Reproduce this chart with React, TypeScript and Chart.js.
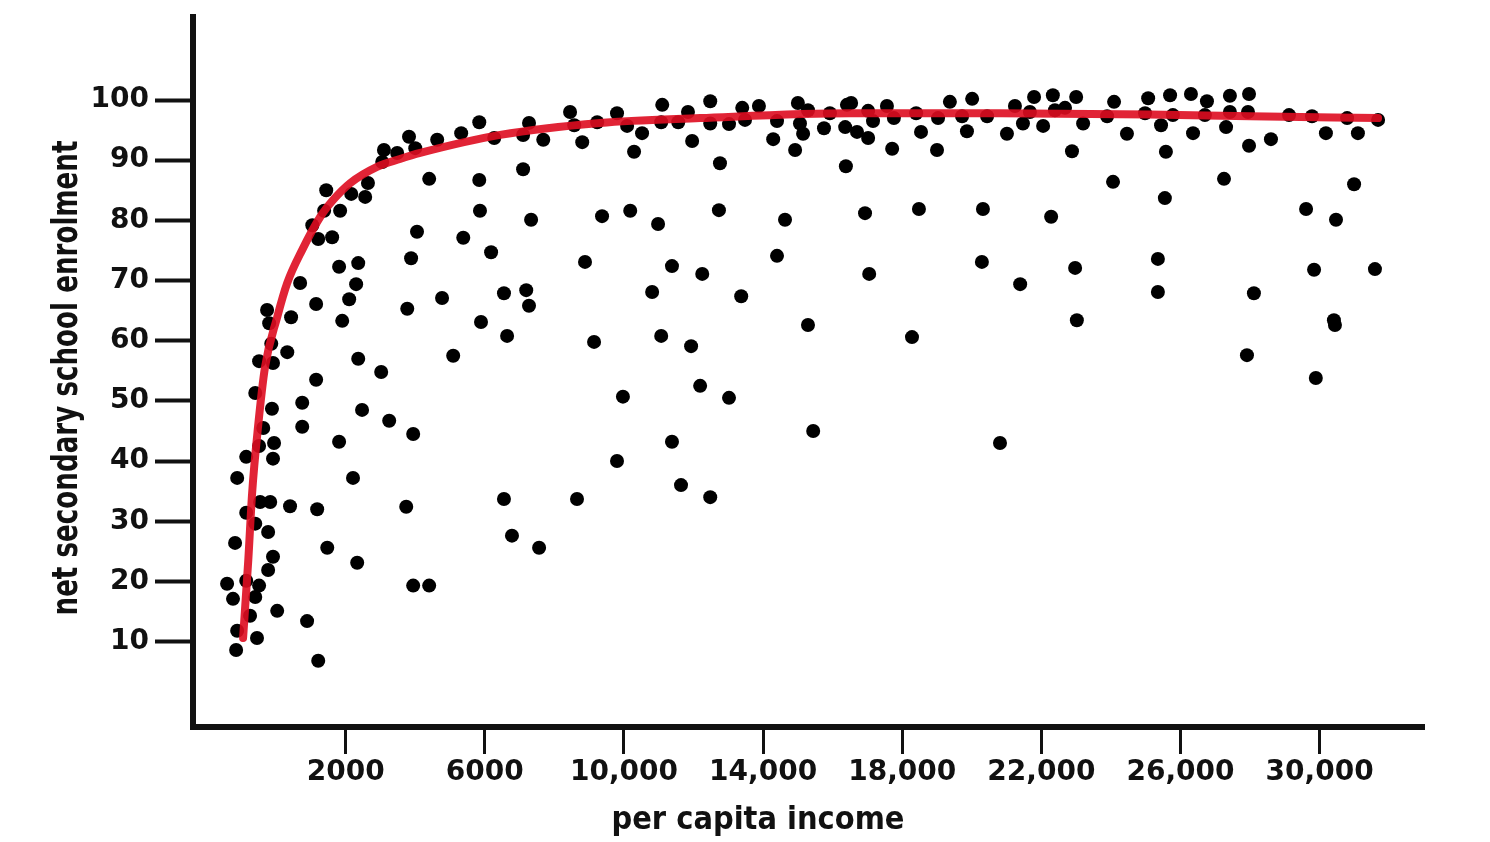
import React, { useEffect, useRef } from 'react';
import { Chart, registerables } from 'chart.js';

Chart.register(...registerables);

// ---- data ----
const incomes: number[] = [
  3820, 3100, 3480, 4000, 4630, 3050, 4400, 2640, 2560, 2160,
  1440, 1380, 1840, 1040, 1210, 1610, 4050, 3880, 1810, 2360,
  2300, 690, 2100, 1150, 3770, 1900, -260, -200, 430, -140,
  320, -490, -90, 2360, 3020, 1150, 4770, -600, 750, -120,
  2470, 3250, 3940, 750, -370, -490, -60, 1810, -860, -90,
  -1120, 2210, -460, -170, 400, 1180, 3740, -860, -600, -230,
  -1180, 1470, 2330, -90, -230, -1410, -860, -490, 3940, 4400,
  -600, -1240, 30, -750, 890, -1120, -550, -1150, 1210,
  5320, 5840, 6270, 7100, 7270, 7680, 8450, 8570, 8800, 9230,
  9800, 10090, 10520, 10290, 11100, 11070, 11560, 11840, 11960, 12480,
  12480, 13020, 13400, 13480, 13880, 14400, 14290, 14920, 15000, 15290,
  15060, 15150, 15750, 15920, 16410, 16360, 16380, 12760, 5840, 7100,
  5860, 7330, 5380, 6180, 9370, 10180, 10980, 12730, 14630, 8880,
  11380, 12250, 14400, 6550, 7190, 7270, 5890, 6640, 5090, 9140,
  10810, 11070, 11930, 13370, 15290, 9970, 12190, 13020, 11380, 9800,
  15440, 11640, 12480, 6550, 8650, 6780, 7560,
  16530, 16700, 17020, 17160, 17020, 17560, 17760, 17710, 18400, 18540,
  19030, 19000, 19370, 19720, 19860, 20010, 20440, 21010, 21240, 21470,
  21670, 21790, 22050, 22330, 22390, 22680, 23000, 23200, 22880, 23890,
  24090, 24460, 24060, 24980, 25070, 16930, 18480, 20320, 22280, 17050,
  20290, 21390, 22970, 23020, 18280, 20810,
  25700, 26300, 26760, 27420, 27970, 25780, 26700, 27420, 27940, 29120,
  29780, 30790, 31680, 25440, 26360, 27310, 27970, 28600, 30180, 31100,
  25580, 27250, 30990, 25550, 29610, 30470, 25350, 29840, 31590, 25350,
  28110, 30440, 27910, 29890, 30410,
];

const enrolment: number[] = [
  93.9, 91.7, 91.2, 92.0, 93.4, 89.7, 86.9, 86.2, 83.9, 84.4,
  85.0, 81.6, 81.6, 79.2, 76.9, 77.2, 78.1, 73.7, 72.3, 72.9,
  69.4, 69.6, 66.9, 66.1, 65.3, 63.3, 65.1, 62.9, 63.9, 59.5,
  58.1, 56.6, 56.3, 57.0, 54.8, 53.5, 67.1, 51.3, 49.7, 48.7,
  48.5, 46.7, 44.5, 45.7, 45.5, 42.5, 43.0, 43.2, 40.7, 40.4,
  37.2, 37.2, 33.2, 33.2, 32.5, 32.0, 32.4, 31.4, 29.6, 28.2,
  26.4, 25.6, 23.1, 24.1, 21.9, 19.6, 20.1, 19.3, 19.3, 19.3,
  17.4, 17.1, 15.1, 14.3, 13.4, 11.8, 10.6, 8.6, 6.8,
  94.5, 96.3, 93.7, 94.2, 96.2, 93.4, 98.0, 95.8, 93.0, 96.3,
  97.8, 95.7, 94.5, 91.4, 99.2, 96.3, 96.3, 98.0, 93.2, 99.8,
  96.1, 96.0, 98.7, 96.7, 99.0, 96.5, 93.5, 91.7, 99.5, 98.3,
  96.1, 94.4, 95.3, 97.8, 99.2, 95.5, 89.0, 89.5, 86.7, 88.5,
  81.6, 80.1, 77.1, 74.7, 80.7, 81.6, 79.4, 81.7, 80.1, 73.1,
  72.4, 71.1, 74.1, 67.9, 68.4, 65.8, 63.1, 60.8, 57.5, 59.8,
  68.1, 60.8, 59.1, 67.4, 62.6, 50.7, 52.5, 50.5, 43.2, 40.0,
  45.0, 36.0, 34.0, 33.7, 33.7, 27.6, 25.6,
  99.5, 94.7, 98.2, 96.5, 93.7, 99.0, 97.0, 91.9, 97.8, 94.7,
  97.0, 91.7, 99.7, 97.3, 94.8, 100.2, 97.3, 94.4, 99.0, 96.1,
  98.0, 100.5, 95.7, 100.8, 98.3, 98.7, 100.5, 96.1, 91.5, 97.3,
  99.7, 94.4, 86.4, 97.8, 100.3, 81.2, 81.9, 81.9, 80.6, 71.1,
  73.1, 69.4, 72.1, 63.4, 60.6, 43.0,
  100.8, 101.0, 99.8, 100.7, 101.0, 97.5, 97.5, 98.0, 98.0, 97.5,
  97.3, 97.0, 96.7, 95.8, 94.5, 95.5, 92.4, 93.5, 94.5, 94.5,
  91.4, 86.9, 86.0, 83.7, 81.9, 80.1, 73.6, 71.8, 71.9, 68.1,
  67.9, 62.6, 57.6, 53.8, 63.4,
];

// red fitted curve
const fitIncome: number[] = [
  -950, -800, -690, -520, -320, 30, 320, 750, 1270, 1640, 2130,
  2900, 3560, 4140, 6440, 9310, 12190, 16500, 20810, 25120, 28000, 31680,
];
const fitEnrolment: number[] = [
  10.6, 23.6, 34.7, 45.7, 55.6, 63.9, 69.6, 75.1, 80.6, 83.4, 86.2,
  88.9, 90.2, 91.2, 94.2, 96.2, 97.0, 97.8, 97.8, 97.6, 97.3, 97.0,
];

const xTickValues: number[] = [2000, 6000, 10000, 14000, 18000, 22000, 26000, 30000];
const yTickValues: number[] = [10, 20, 30, 40, 50, 60, 70, 80, 90, 100];

const xTitle = 'per capita income';
const yTitle = 'net secondary school enrolment';

const INK = '#111111';
const FONT = '"DejaVu Sans", sans-serif';

const titlePlugin = {
  id: 'handTitles',
  afterDraw(chart: any) {
    const ctx = chart.ctx as CanvasRenderingContext2D;
    const { left, top, bottom } = chart.chartArea;
    ctx.save();
    ctx.fillStyle = INK;
    ctx.textAlign = 'center';
    ctx.textBaseline = 'alphabetic';
    ctx.font = `bold 32px ${FONT}`;
    ctx.fillText(xTitle, left + 565, bottom + 102, 293);
    ctx.translate(left - 116, top + 361);
    ctx.rotate(-Math.PI / 2);
    ctx.font = `bold 36px ${FONT}`;
    ctx.fillText(yTitle, 0, 0, 475);
    ctx.restore();
  },
};

export default function App() {
  const canvasRef = useRef<HTMLCanvasElement | null>(null);

  useEffect(() => {
    if (!canvasRef.current) return;
    const tickFont = { family: FONT, size: 28, weight: 'bold' as const };
    const chart = new Chart(canvasRef.current, {
      type: 'scatter',
      data: {
        datasets: [
          {
            label: 'fit',
            data: fitIncome.map((x, i) => ({ x, y: fitEnrolment[i] })),
            showLine: true,
            borderColor: 'rgba(222, 12, 32, 0.9)',
            backgroundColor: 'rgba(222, 12, 32, 0.9)',
            borderWidth: 8,
            pointRadius: 0,
            pointHoverRadius: 0,
            cubicInterpolationMode: 'monotone',
            borderCapStyle: 'round',
            borderJoinStyle: 'round',
            fill: false,
          } as any,
          {
            label: 'countries',
            data: incomes.map((x, i) => ({ x, y: enrolment[i] })),
            backgroundColor: '#000000',
            borderWidth: 0,
            pointRadius: 7,
            pointHoverRadius: 7,
          },
        ],
      },
      options: {
        responsive: false,
        animation: false,
        events: [],
        layout: { padding: { left: 8, top: 17, right: 66, bottom: 0 } },
        plugins: {
          legend: { display: false },
          tooltip: { enabled: false },
          title: { display: false },
        },
        scales: {
          x: {
            type: 'linear',
            position: 'bottom',
            min: -2390,
            max: 33000,
            afterBuildTicks: (s: any) => {
              s.ticks = xTickValues.map((v) => ({ value: v }));
            },
            afterFit: (s: any) => {
              s.height = 115;
              s.paddingLeft = 0;
              s.paddingRight = 0;
            },
            grid: {
              drawOnChartArea: false,
              drawTicks: true,
              tickLength: 27,
              tickWidth: 3,
              tickColor: INK,
              color: INK,
            },
            border: { display: true, color: INK, width: 6 },
            ticks: {
              font: tickFont,
              color: INK,
              padding: 2,
              maxRotation: 0,
              autoSkip: false,
              callback: (v: any) =>
                Number(v) >= 10000 ? Number(v).toLocaleString('en-US') : String(v),
            },
          },
          y: {
            type: 'linear',
            position: 'left',
            min: -4.2,
            max: 113.8,
            afterBuildTicks: (s: any) => {
              s.ticks = yTickValues.map((v) => ({ value: v }));
            },
            afterFit: (s: any) => {
              s.width = 185;
              s.paddingTop = 0;
              s.paddingBottom = 0;
            },
            grid: {
              drawOnChartArea: false,
              drawTicks: true,
              tickLength: 38,
              tickWidth: 4,
              tickColor: INK,
              color: INK,
            },
            border: { display: true, color: INK, width: 6 },
            ticks: {
              font: tickFont,
              color: INK,
              padding: 6,
              autoSkip: false,
              callback: (v: any) => String(v),
            },
          },
        },
      },
      plugins: [titlePlugin],
    });
    return () => chart.destroy();
  }, []);

  return (
    <div
      style={{
        position: 'absolute',
        left: 0,
        top: 0,
        width: 1490,
        height: 842,
        background: '#ffffff',
      }}
    >
      <canvas ref={canvasRef} width={1490} height={842} style={{ display: 'block' }} />
    </div>
  );
}
